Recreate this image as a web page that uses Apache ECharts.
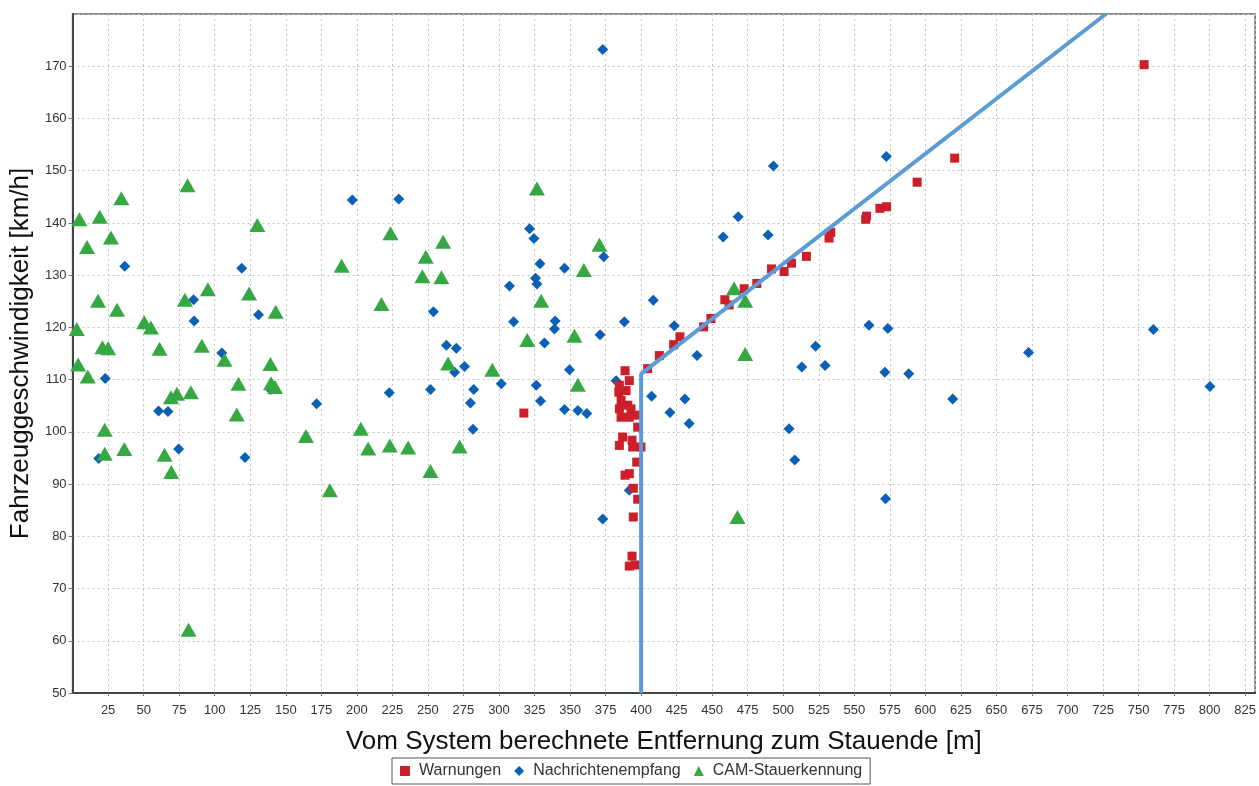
<!DOCTYPE html>
<html>
<head>
<meta charset="utf-8">
<script src="https://cdn.jsdelivr.net/npm/echarts@6/dist/echarts.min.js"></script>
<style>
html,body{margin:0;padding:0;background:#fff;}
#chart{width:1259px;height:786px;}
</style>
</head>
<body>
<div id="chart"></div>
<script>
const seriesNames = ['Warnungen', 'Nachrichtenempfang', 'CAM-Stauerkennung'];
const xTitle = 'Vom System berechnete Entfernung zum Stauende [m]';
const yTitle = 'Fahrzeuggeschwindigkeit [km/h]';

const warnungen = [
  [317.5,103.6],
  [388.7,111.7],[404.6,112.1],[391.7,109.8],[384.7,108.9],[384.3,107.6],[389.4,107.9],[385.9,106],
  [384.7,104.4],[390.6,105.1],[392.9,104.4],[385.9,102.8],[391.7,102.8],[396.4,103.2],[397.6,100.9],
  [387,99],[393.6,98.4],[384.7,97.4],[394.1,97.1],[399.9,97.1],[396.9,94.2],[388.7,91.7],[391.7,92],
  [394.5,89.2],[397.6,87.1],[394.5,83.7],[393.6,76.2],[391.7,74.3],[395.9,74.5],
  [412.8,114.6],[422.9,116.7],[427.3,118.2],[444,120.1],[449.1,121.7],[458.9,125.3],[461.9,124.3],
  [472.5,127.4],[481.4,128.4],[491.7,131.2],[500.6,130.7],[505.8,132.3],[516.3,133.6],[532.2,137.1],
  [533.4,138.2],[558,140.7],[558.6,141.3],[568,142.8],[572.7,143.1],[594.2,147.8],[620.6,152.4],
  [753.9,170.3]
];

const nachrichtenempfang = [
  [36.7,131.7],[119,131.3],[85.1,125.3],[85.5,121.2],[130.8,122.4],[23,110.2],[105,115.1],[60.5,104],
  [67.1,103.9],[139.4,108.1],[18.4,94.9],[74.6,96.7],[121.3,95.1],[171.7,105.4],
  [373,173.2],[196.8,144.4],[229.5,144.6],[321.5,138.9],[324.6,137],[328.8,132.2],[346.1,131.3],
  [373.7,133.5],[325.7,129.4],[326.7,128.3],[307.4,127.9],[253.9,123],[310.3,121.1],[339.5,121.2],
  [339,119.7],[371.1,118.6],[388.2,121.1],[332,117],[263,116.6],[270,116],
  [268.8,111.4],[275.8,112.5],[222.8,107.5],[251.8,108.1],[282.2,108.1],[279.9,105.5],[281.7,100.5],
  [301.6,109.2],[326.2,108.9],[329.2,105.9],[349.6,111.9],[346.1,104.3],[355.5,104.1],[361.8,103.5],
  [373,83.3],[382.4,109.8],
  [572.5,152.7],[493.1,150.9],[468.3,141.2],[457.7,137.3],[489.3,137.7],[408.6,125.2],[423.3,120.3],
  [560.3,120.4],[573.6,119.8],[522.8,116.4],[439.3,114.6],[513,112.4],[529.4,112.7],[571.5,111.4],
  [588.3,111.1],[619.2,106.3],[407.4,106.8],[430.8,106.3],[420.3,103.7],[433.8,101.6],[504.1,100.6],
  [508.1,94.6],[572,87.2],[391.7,88.8],
  [760.4,119.6],[672.6,115.2],[800.2,108.7]
];

const camStauerkennung = [
  [4.8,140.7],[10.2,135.4],[19.1,141.2],[27,137.2],[34.3,144.7],[80.9,147.2],[130,139.6],[17.9,125.1],
  [31.3,123.4],[79,125.3],[95.2,127.3],[124.2,126.5],[142.9,123],[2.9,119.7],[50.4,121],[55.1,120],
  [21,116.2],[25,116],[61.2,115.9],[90.9,116.5],[106.9,113.8],[3.9,112.9],[10.7,110.6],[139.2,113],
  [139.6,109.3],[142.4,108.6],[116.7,109.2],[115.5,103.3],[69.2,106.6],[73.4,107.3],[83.2,107.6],
  [22.6,100.4],[22.6,95.8],[36.4,96.7],[64.7,95.6],[69.4,92.3],[164.2,99.2],[181,88.8],[81.6,62.1],
  [326.7,146.6],[370.7,135.8],[359.7,131],[223.7,138],[260.7,136.4],[248.5,133.5],[189.3,131.8],
  [246.1,129.8],[259.5,129.6],[217.3,124.5],[329.7,125.1],[319.9,117.6],[353.1,118.4],
  [264.2,113.1],[295.3,111.9],[355.5,109],[202.8,100.6],[208,96.8],[223.2,97.4],[236.1,97],
  [272.3,97.2],[251.8,92.5],
  [465.4,127.5],[473.2,125.1],[473.2,114.9],[467.8,83.7]
];

const thresholdLine = [[400,50],[400,111.1],[727,180]];

const FONT = '"Liberation Sans", Arial, sans-serif';
const chart = echarts.init(document.getElementById('chart'), null, {renderer: 'canvas'});

chart.setOption({
  animation: false,
  backgroundColor: '#ffffff',
  grid: {left: 70, right: 3, top: 14, bottom: 93, show: true, borderColor: '#666', borderWidth: 1.5, backgroundColor: 'transparent'},
  legend: {
    data: seriesNames,
    left: 392, top: 758,
    orient: 'horizontal',
    borderColor: '#555', borderWidth: 1,
    padding: [5, 8, 5, 8],
    itemGap: 13,
    itemWidth: 10, itemHeight: 10,
    textStyle: {fontFamily: FONT, fontSize: 16, color: '#333', padding: [0, 0, 0, 4]}
  },
  xAxis: {
    type: 'value', min: 0, max: 832, interval: 25,
    name: xTitle, nameLocation: 'middle', nameGap: 36,
    nameTextStyle: {fontFamily: FONT, fontSize: 26, color: '#111'},
    axisLine: {show: true, onZero: false, lineStyle: {color: '#444', width: 2}},
    axisTick: {show: true, length: 3, lineStyle: {color: '#777'}},
    axisLabel: {
      fontFamily: FONT, fontSize: 13, color: '#333', margin: 11,
      showMinLabel: false, showMaxLabel: false,
      formatter: v => (v > 0 && v % 25 === 0) ? String(v) : ''
    },
    splitLine: {show: true, lineStyle: {color: '#c4c4c4', type: [2, 3], width: 1}}
  },
  yAxis: {
    type: 'value', min: 50, max: 180, interval: 10,
    name: yTitle, nameLocation: 'middle', nameGap: 33,
    nameTextStyle: {fontFamily: FONT, fontSize: 26, color: '#111'},
    axisLine: {show: true, onZero: false, lineStyle: {color: '#444', width: 2}},
    axisTick: {show: true, length: 4, lineStyle: {color: '#777'}},
    axisLabel: {
      fontFamily: FONT, fontSize: 13, color: '#333', margin: 6,
      showMaxLabel: false
    },
    splitLine: {show: true, lineStyle: {color: '#c4c4c4', type: [2, 3], width: 1}}
  },
  series: [
    {
      name: seriesNames[0], type: 'scatter', data: warnungen,
      symbol: 'rect', symbolSize: 9, z: 3,
      itemStyle: {color: '#cc1f2a', opacity: 1}
    },
    {
      name: seriesNames[1], type: 'scatter', data: nachrichtenempfang,
      symbol: 'diamond', symbolSize: 11, z: 2,
      itemStyle: {color: '#0a60b6', opacity: 1}
    },
    {
      name: seriesNames[2], type: 'scatter', data: camStauerkennung,
      symbol: 'triangle', symbolSize: [16, 14], z: 2,
      itemStyle: {color: '#36a843', opacity: 1}
    },
    {
      name: 'Grenze', type: 'line', data: thresholdLine,
      showSymbol: false, symbol: 'none', z: 5,
      lineStyle: {color: '#5b9bd6', width: 4},
      silent: true
    }
  ]
});
</script>
</body>
</html>
